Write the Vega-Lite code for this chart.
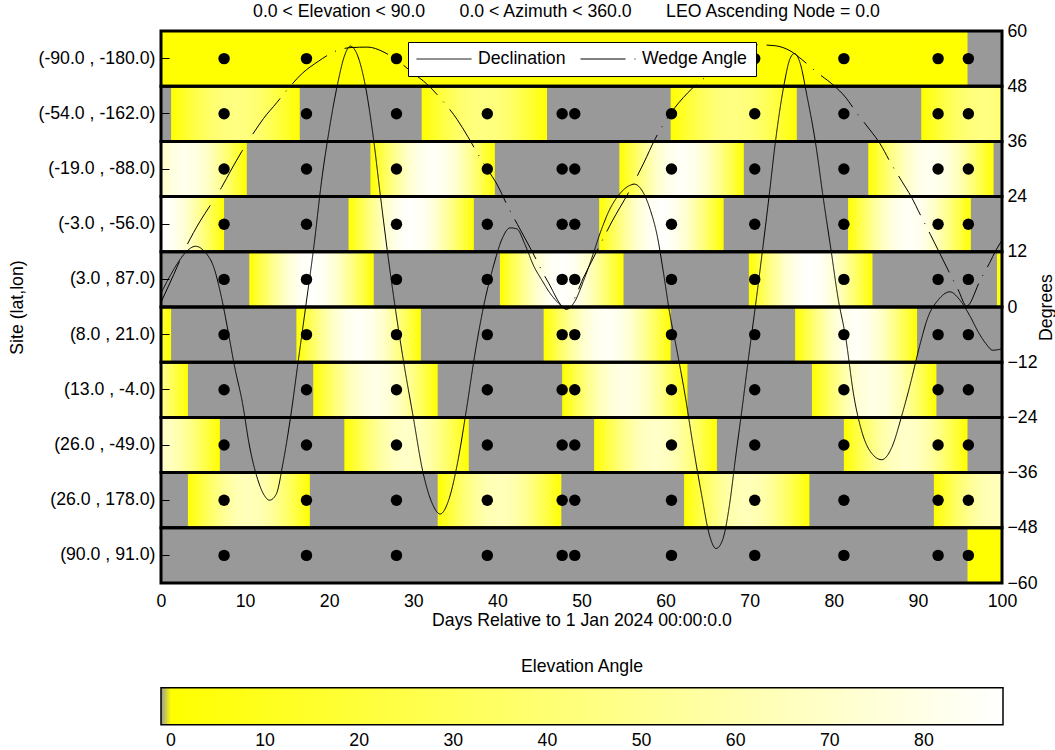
{
"$schema": "https://vega.github.io/schema/vega-lite/v6.json",
"background": "white",
"padding": {"top": 3, "left": 8, "right": 0, "bottom": 0},
"config": {
  "font": "Liberation Sans",
  "view": {"stroke": "black", "strokeWidth": 2},
  "axis": {"labelFont": "Liberation Sans", "titleFont": "Liberation Sans", "labelFontSize": 17.7, "titleFontSize": 17.7, "titleFontWeight": "normal", "labelColor": "black", "titleColor": "black", "tickColor": "black", "tickWidth": 1, "domain": false, "grid": false, "labelOverlap": false},
  "title": {"font": "Liberation Sans", "fontSize": 17.7, "fontWeight": "normal", "color": "black"}
},
"datasets": {
  "sites": [
    {"site": "(-90.0 , -180.0)"}, {"site": "(-54.0 , -162.0)"}, {"site": "(-19.0 , -88.0)"}, {"site": "(-3.0 , -56.0)"}, {"site": "(3.0 , 87.0)"},
    {"site": "(8.0 , 21.0)"}, {"site": "(13.0 , -4.0)"}, {"site": "(26.0 , -49.0)"}, {"site": "(26.0 , 178.0)"}, {"site": "(90.0 , 91.0)"}
  ],
  "passes": [
    {"site": "(-90.0 , -180.0)", "start": -5, "end": 95.9, "peak": 1},
    {"site": "(-54.0 , -162.0)", "start": 1.2, "end": 16.5, "peak": 45},
    {"site": "(-54.0 , -162.0)", "start": 31.0, "end": 45.9, "peak": 45},
    {"site": "(-54.0 , -162.0)", "start": 60.6, "end": 75.6, "peak": 45},
    {"site": "(-54.0 , -162.0)", "start": 90.4, "end": 105.3, "peak": 45},
    {"site": "(-19.0 , -88.0)", "start": -4.6, "end": 10.2, "peak": 82},
    {"site": "(-19.0 , -88.0)", "start": 24.9, "end": 39.7, "peak": 86},
    {"site": "(-19.0 , -88.0)", "start": 54.5, "end": 69.3, "peak": 86},
    {"site": "(-19.0 , -88.0)", "start": 84.1, "end": 99.0, "peak": 84},
    {"site": "(-3.0 , -56.0)", "start": -7.3, "end": 7.5, "peak": 88},
    {"site": "(-3.0 , -56.0)", "start": 22.3, "end": 37.2, "peak": 88},
    {"site": "(-3.0 , -56.0)", "start": 52.1, "end": 66.9, "peak": 88},
    {"site": "(-3.0 , -56.0)", "start": 81.7, "end": 96.3, "peak": 86},
    {"site": "(3.0 , 87.0)", "start": 10.5, "end": 25.3, "peak": 88},
    {"site": "(3.0 , 87.0)", "start": 40.3, "end": 55.0, "peak": 88},
    {"site": "(3.0 , 87.0)", "start": 69.9, "end": 84.6, "peak": 88},
    {"site": "(3.0 , 87.0)", "start": 99.4, "end": 114.2, "peak": 88},
    {"site": "(8.0 , 21.0)", "start": -13.6, "end": 1.2, "peak": 85},
    {"site": "(8.0 , 21.0)", "start": 16.1, "end": 30.9, "peak": 86},
    {"site": "(8.0 , 21.0)", "start": 45.5, "end": 60.6, "peak": 86},
    {"site": "(8.0 , 21.0)", "start": 75.4, "end": 89.9, "peak": 86},
    {"site": "(13.0 , -4.0)", "start": -11.6, "end": 3.2, "peak": 80},
    {"site": "(13.0 , -4.0)", "start": 18.1, "end": 32.9, "peak": 80},
    {"site": "(13.0 , -4.0)", "start": 47.7, "end": 62.6, "peak": 80},
    {"site": "(13.0 , -4.0)", "start": 77.4, "end": 92.2, "peak": 80},
    {"site": "(26.0 , -49.0)", "start": -7.8, "end": 7.0, "peak": 70},
    {"site": "(26.0 , -49.0)", "start": 21.8, "end": 36.6, "peak": 70},
    {"site": "(26.0 , -49.0)", "start": 51.5, "end": 66.1, "peak": 70},
    {"site": "(26.0 , -49.0)", "start": 81.2, "end": 95.9, "peak": 70},
    {"site": "(26.0 , 178.0)", "start": 3.2, "end": 17.7, "peak": 65},
    {"site": "(26.0 , 178.0)", "start": 32.9, "end": 47.6, "peak": 65},
    {"site": "(26.0 , 178.0)", "start": 62.2, "end": 77.1, "peak": 65},
    {"site": "(26.0 , 178.0)", "start": 91.9, "end": 106.7, "peak": 65},
    {"site": "(90.0 , 91.0)", "start": 95.9, "end": 105, "peak": 1}
  ],
  "dots": [
    {"site": "(-90.0 , -180.0)", "day": 7.5}, {"site": "(-90.0 , -180.0)", "day": 17.3}, {"site": "(-90.0 , -180.0)", "day": 28.0}, {"site": "(-90.0 , -180.0)", "day": 38.8}, {"site": "(-90.0 , -180.0)", "day": 47.7}, {"site": "(-90.0 , -180.0)", "day": 49.2}, {"site": "(-90.0 , -180.0)", "day": 60.7}, {"site": "(-90.0 , -180.0)", "day": 70.6}, {"site": "(-90.0 , -180.0)", "day": 81.2}, {"site": "(-90.0 , -180.0)", "day": 92.4}, {"site": "(-90.0 , -180.0)", "day": 96.0},
    {"site": "(-54.0 , -162.0)", "day": 7.5}, {"site": "(-54.0 , -162.0)", "day": 17.3}, {"site": "(-54.0 , -162.0)", "day": 28.0}, {"site": "(-54.0 , -162.0)", "day": 38.8}, {"site": "(-54.0 , -162.0)", "day": 47.7}, {"site": "(-54.0 , -162.0)", "day": 49.2}, {"site": "(-54.0 , -162.0)", "day": 60.7}, {"site": "(-54.0 , -162.0)", "day": 70.6}, {"site": "(-54.0 , -162.0)", "day": 81.2}, {"site": "(-54.0 , -162.0)", "day": 92.4}, {"site": "(-54.0 , -162.0)", "day": 96.0},
    {"site": "(-19.0 , -88.0)", "day": 7.5}, {"site": "(-19.0 , -88.0)", "day": 17.3}, {"site": "(-19.0 , -88.0)", "day": 28.0}, {"site": "(-19.0 , -88.0)", "day": 38.8}, {"site": "(-19.0 , -88.0)", "day": 47.7}, {"site": "(-19.0 , -88.0)", "day": 49.2}, {"site": "(-19.0 , -88.0)", "day": 60.7}, {"site": "(-19.0 , -88.0)", "day": 70.6}, {"site": "(-19.0 , -88.0)", "day": 81.2}, {"site": "(-19.0 , -88.0)", "day": 92.4}, {"site": "(-19.0 , -88.0)", "day": 96.0},
    {"site": "(-3.0 , -56.0)", "day": 7.5}, {"site": "(-3.0 , -56.0)", "day": 17.3}, {"site": "(-3.0 , -56.0)", "day": 28.0}, {"site": "(-3.0 , -56.0)", "day": 38.8}, {"site": "(-3.0 , -56.0)", "day": 47.7}, {"site": "(-3.0 , -56.0)", "day": 49.2}, {"site": "(-3.0 , -56.0)", "day": 60.7}, {"site": "(-3.0 , -56.0)", "day": 70.6}, {"site": "(-3.0 , -56.0)", "day": 81.2}, {"site": "(-3.0 , -56.0)", "day": 92.4}, {"site": "(-3.0 , -56.0)", "day": 96.0},
    {"site": "(3.0 , 87.0)", "day": 7.5}, {"site": "(3.0 , 87.0)", "day": 17.3}, {"site": "(3.0 , 87.0)", "day": 28.0}, {"site": "(3.0 , 87.0)", "day": 38.8}, {"site": "(3.0 , 87.0)", "day": 47.7}, {"site": "(3.0 , 87.0)", "day": 49.2}, {"site": "(3.0 , 87.0)", "day": 60.7}, {"site": "(3.0 , 87.0)", "day": 70.6}, {"site": "(3.0 , 87.0)", "day": 81.2}, {"site": "(3.0 , 87.0)", "day": 92.4}, {"site": "(3.0 , 87.0)", "day": 96.0},
    {"site": "(8.0 , 21.0)", "day": 7.5}, {"site": "(8.0 , 21.0)", "day": 17.3}, {"site": "(8.0 , 21.0)", "day": 28.0}, {"site": "(8.0 , 21.0)", "day": 38.8}, {"site": "(8.0 , 21.0)", "day": 47.7}, {"site": "(8.0 , 21.0)", "day": 49.2}, {"site": "(8.0 , 21.0)", "day": 60.7}, {"site": "(8.0 , 21.0)", "day": 70.6}, {"site": "(8.0 , 21.0)", "day": 81.2}, {"site": "(8.0 , 21.0)", "day": 92.4}, {"site": "(8.0 , 21.0)", "day": 96.0},
    {"site": "(13.0 , -4.0)", "day": 7.5}, {"site": "(13.0 , -4.0)", "day": 17.3}, {"site": "(13.0 , -4.0)", "day": 28.0}, {"site": "(13.0 , -4.0)", "day": 38.8}, {"site": "(13.0 , -4.0)", "day": 47.7}, {"site": "(13.0 , -4.0)", "day": 49.2}, {"site": "(13.0 , -4.0)", "day": 60.7}, {"site": "(13.0 , -4.0)", "day": 70.6}, {"site": "(13.0 , -4.0)", "day": 81.2}, {"site": "(13.0 , -4.0)", "day": 92.4}, {"site": "(13.0 , -4.0)", "day": 96.0},
    {"site": "(26.0 , -49.0)", "day": 7.5}, {"site": "(26.0 , -49.0)", "day": 17.3}, {"site": "(26.0 , -49.0)", "day": 28.0}, {"site": "(26.0 , -49.0)", "day": 38.8}, {"site": "(26.0 , -49.0)", "day": 47.7}, {"site": "(26.0 , -49.0)", "day": 49.2}, {"site": "(26.0 , -49.0)", "day": 60.7}, {"site": "(26.0 , -49.0)", "day": 70.6}, {"site": "(26.0 , -49.0)", "day": 81.2}, {"site": "(26.0 , -49.0)", "day": 92.4}, {"site": "(26.0 , -49.0)", "day": 96.0},
    {"site": "(26.0 , 178.0)", "day": 7.5}, {"site": "(26.0 , 178.0)", "day": 17.3}, {"site": "(26.0 , 178.0)", "day": 28.0}, {"site": "(26.0 , 178.0)", "day": 38.8}, {"site": "(26.0 , 178.0)", "day": 47.7}, {"site": "(26.0 , 178.0)", "day": 49.2}, {"site": "(26.0 , 178.0)", "day": 60.7}, {"site": "(26.0 , 178.0)", "day": 70.6}, {"site": "(26.0 , 178.0)", "day": 81.2}, {"site": "(26.0 , 178.0)", "day": 92.4}, {"site": "(26.0 , 178.0)", "day": 96.0},
    {"site": "(90.0 , 91.0)", "day": 7.5}, {"site": "(90.0 , 91.0)", "day": 17.3}, {"site": "(90.0 , 91.0)", "day": 28.0}, {"site": "(90.0 , 91.0)", "day": 38.8}, {"site": "(90.0 , 91.0)", "day": 47.7}, {"site": "(90.0 , 91.0)", "day": 49.2}, {"site": "(90.0 , 91.0)", "day": 60.7}, {"site": "(90.0 , 91.0)", "day": 70.6}, {"site": "(90.0 , 91.0)", "day": 81.2}, {"site": "(90.0 , 91.0)", "day": 92.4}, {"site": "(90.0 , 91.0)", "day": 96.0}
  ],
  "lines": [
    {"series": "Declination", "day": 0, "deg": 3.0}, {"series": "Declination", "day": 1.0, "deg": 6.5}, {"series": "Declination", "day": 2.0, "deg": 9.6}, {"series": "Declination", "day": 3.0, "deg": 12.0}, {"series": "Declination", "day": 4.1, "deg": 13.2}, {"series": "Declination", "day": 5.2, "deg": 12.0}, {"series": "Declination", "day": 6.3, "deg": 8.5}, {"series": "Declination", "day": 7.2, "deg": 2.0}, {"series": "Declination", "day": 8.0, "deg": -5.5}, {"series": "Declination", "day": 8.7, "deg": -12.5},
    {"series": "Declination", "day": 9.7, "deg": -21.0}, {"series": "Declination", "day": 10.5, "deg": -30.0}, {"series": "Declination", "day": 11.5, "deg": -37.5}, {"series": "Declination", "day": 12.3, "deg": -41.0}, {"series": "Declination", "day": 12.9, "deg": -42.0}, {"series": "Declination", "day": 13.7, "deg": -40.7}, {"series": "Declination", "day": 14.5, "deg": -34.0}, {"series": "Declination", "day": 15.4, "deg": -24.0}, {"series": "Declination", "day": 16.3, "deg": -12.0}, {"series": "Declination", "day": 17.2, "deg": 0.0},
    {"series": "Declination", "day": 18.2, "deg": 13.5}, {"series": "Declination", "day": 19.1, "deg": 27.5}, {"series": "Declination", "day": 20.0, "deg": 38.5}, {"series": "Declination", "day": 21.0, "deg": 48.5}, {"series": "Declination", "day": 21.8, "deg": 54.5}, {"series": "Declination", "day": 22.5, "deg": 56.7}, {"series": "Declination", "day": 23.3, "deg": 55.0}, {"series": "Declination", "day": 24.2, "deg": 49.0}, {"series": "Declination", "day": 25.2, "deg": 37.5}, {"series": "Declination", "day": 26.1, "deg": 24.0},
    {"series": "Declination", "day": 27.0, "deg": 11.0}, {"series": "Declination", "day": 28.0, "deg": -2.0}, {"series": "Declination", "day": 28.9, "deg": -12.5}, {"series": "Declination", "day": 30.0, "deg": -24.0}, {"series": "Declination", "day": 31.1, "deg": -35.5}, {"series": "Declination", "day": 32.2, "deg": -42.5}, {"series": "Declination", "day": 33.2, "deg": -45.0}, {"series": "Declination", "day": 34.2, "deg": -42.0}, {"series": "Declination", "day": 35.3, "deg": -33.5}, {"series": "Declination", "day": 36.3, "deg": -22.5},
    {"series": "Declination", "day": 37.3, "deg": -10.5}, {"series": "Declination", "day": 38.4, "deg": 0.5}, {"series": "Declination", "day": 39.5, "deg": 8.7}, {"series": "Declination", "day": 40.6, "deg": 15.0}, {"series": "Declination", "day": 41.5, "deg": 17.2}, {"series": "Declination", "day": 42.3, "deg": 17.0}, {"series": "Declination", "day": 43.3, "deg": 13.5}, {"series": "Declination", "day": 44.3, "deg": 9.0}, {"series": "Declination", "day": 45.3, "deg": 5.8}, {"series": "Declination", "day": 46.3, "deg": 2.9},
    {"series": "Declination", "day": 47.4, "deg": 0.6}, {"series": "Declination", "day": 48.2, "deg": -0.5}, {"series": "Declination", "day": 49.2, "deg": 1.2}, {"series": "Declination", "day": 50.2, "deg": 5.5}, {"series": "Declination", "day": 51.2, "deg": 10.5}, {"series": "Declination", "day": 52.3, "deg": 16.5}, {"series": "Declination", "day": 53.3, "deg": 21.0}, {"series": "Declination", "day": 54.5, "deg": 24.5}, {"series": "Declination", "day": 55.6, "deg": 26.3}, {"series": "Declination", "day": 56.3, "deg": 26.7},
    {"series": "Declination", "day": 57.3, "deg": 25.0}, {"series": "Declination", "day": 58.2, "deg": 21.0}, {"series": "Declination", "day": 59.0, "deg": 15.5}, {"series": "Declination", "day": 59.7, "deg": 8.0}, {"series": "Declination", "day": 60.5, "deg": -1.5}, {"series": "Declination", "day": 61.3, "deg": -9.0}, {"series": "Declination", "day": 62.3, "deg": -19.0}, {"series": "Declination", "day": 63.3, "deg": -30.5}, {"series": "Declination", "day": 64.3, "deg": -41.0}, {"series": "Declination", "day": 65.2, "deg": -49.5},
    {"series": "Declination", "day": 66.0, "deg": -52.5}, {"series": "Declination", "day": 66.8, "deg": -50.5}, {"series": "Declination", "day": 67.6, "deg": -43.0}, {"series": "Declination", "day": 68.3, "deg": -33.0}, {"series": "Declination", "day": 69.1, "deg": -22.0}, {"series": "Declination", "day": 69.9, "deg": -10.5}, {"series": "Declination", "day": 70.7, "deg": 0.5}, {"series": "Declination", "day": 71.5, "deg": 12.0}, {"series": "Declination", "day": 72.3, "deg": 24.0}, {"series": "Declination", "day": 73.1, "deg": 36.5},
    {"series": "Declination", "day": 74.1, "deg": 48.5}, {"series": "Declination", "day": 74.7, "deg": 53.5}, {"series": "Declination", "day": 75.3, "deg": 55.1}, {"series": "Declination", "day": 76.0, "deg": 53.0}, {"series": "Declination", "day": 76.8, "deg": 46.0}, {"series": "Declination", "day": 77.8, "deg": 36.0}, {"series": "Declination", "day": 78.8, "deg": 23.0}, {"series": "Declination", "day": 79.7, "deg": 12.0}, {"series": "Declination", "day": 80.5, "deg": 2.0}, {"series": "Declination", "day": 81.4, "deg": -6.5},
    {"series": "Declination", "day": 82.4, "deg": -19.5}, {"series": "Declination", "day": 83.4, "deg": -27.5}, {"series": "Declination", "day": 84.5, "deg": -31.8}, {"series": "Declination", "day": 85.7, "deg": -33.2}, {"series": "Declination", "day": 86.9, "deg": -30.5}, {"series": "Declination", "day": 88.1, "deg": -23.5}, {"series": "Declination", "day": 89.2, "deg": -16.0}, {"series": "Declination", "day": 90.2, "deg": -8.5}, {"series": "Declination", "day": 91.2, "deg": -2.2}, {"series": "Declination", "day": 92.4, "deg": 1.5},
    {"series": "Declination", "day": 93.8, "deg": 3.3}, {"series": "Declination", "day": 95.0, "deg": 1.5}, {"series": "Declination", "day": 96.2, "deg": -2.0}, {"series": "Declination", "day": 97.2, "deg": -5.5}, {"series": "Declination", "day": 98.1, "deg": -8.0}, {"series": "Declination", "day": 98.9, "deg": -9.4}, {"series": "Declination", "day": 100, "deg": -9.1},
    {"series": "Wedge Angle", "day": 0, "deg": 1.0}, {"series": "Wedge Angle", "day": 1.5, "deg": 7.0}, {"series": "Wedge Angle", "day": 3.1, "deg": 13.5}, {"series": "Wedge Angle", "day": 4.6, "deg": 18.5}, {"series": "Wedge Angle", "day": 6.0, "deg": 22.5}, {"series": "Wedge Angle", "day": 7.2, "deg": 26.0}, {"series": "Wedge Angle", "day": 8.4, "deg": 30.0}, {"series": "Wedge Angle", "day": 9.6, "deg": 33.8}, {"series": "Wedge Angle", "day": 10.6, "deg": 36.7}, {"series": "Wedge Angle", "day": 12.2, "deg": 41.0},
    {"series": "Wedge Angle", "day": 13.8, "deg": 44.5}, {"series": "Wedge Angle", "day": 15.0, "deg": 47.2}, {"series": "Wedge Angle", "day": 16.8, "deg": 50.8}, {"series": "Wedge Angle", "day": 18.7, "deg": 53.4}, {"series": "Wedge Angle", "day": 20.6, "deg": 55.5}, {"series": "Wedge Angle", "day": 22.6, "deg": 56.4}, {"series": "Wedge Angle", "day": 24.6, "deg": 56.5}, {"series": "Wedge Angle", "day": 26.4, "deg": 55.5}, {"series": "Wedge Angle", "day": 28.3, "deg": 53.3}, {"series": "Wedge Angle", "day": 30.0, "deg": 50.8},
    {"series": "Wedge Angle", "day": 31.6, "deg": 48.5}, {"series": "Wedge Angle", "day": 33.4, "deg": 45.0}, {"series": "Wedge Angle", "day": 35.2, "deg": 40.8}, {"series": "Wedge Angle", "day": 36.5, "deg": 37.0}, {"series": "Wedge Angle", "day": 37.6, "deg": 33.5}, {"series": "Wedge Angle", "day": 38.8, "deg": 30.0}, {"series": "Wedge Angle", "day": 40.0, "deg": 26.5}, {"series": "Wedge Angle", "day": 41.2, "deg": 22.0}, {"series": "Wedge Angle", "day": 42.4, "deg": 17.9}, {"series": "Wedge Angle", "day": 44.0, "deg": 12.5},
    {"series": "Wedge Angle", "day": 46.0, "deg": 5.5}, {"series": "Wedge Angle", "day": 48.2, "deg": -0.4}, {"series": "Wedge Angle", "day": 50.4, "deg": 7.0}, {"series": "Wedge Angle", "day": 52.0, "deg": 12.8}, {"series": "Wedge Angle", "day": 53.6, "deg": 18.5}, {"series": "Wedge Angle", "day": 55.9, "deg": 25.9}, {"series": "Wedge Angle", "day": 57.4, "deg": 31.3}, {"series": "Wedge Angle", "day": 58.8, "deg": 36.7}, {"series": "Wedge Angle", "day": 60.6, "deg": 42.1}, {"series": "Wedge Angle", "day": 62.6, "deg": 46.5},
    {"series": "Wedge Angle", "day": 64.8, "deg": 50.1}, {"series": "Wedge Angle", "day": 67.0, "deg": 53.5}, {"series": "Wedge Angle", "day": 69.0, "deg": 55.5}, {"series": "Wedge Angle", "day": 71.0, "deg": 57.0}, {"series": "Wedge Angle", "day": 73.0, "deg": 56.8}, {"series": "Wedge Angle", "day": 74.9, "deg": 55.6}, {"series": "Wedge Angle", "day": 76.2, "deg": 53.8}, {"series": "Wedge Angle", "day": 78.0, "deg": 51.0}, {"series": "Wedge Angle", "day": 80.1, "deg": 48.0}, {"series": "Wedge Angle", "day": 81.3, "deg": 45.8},
    {"series": "Wedge Angle", "day": 82.8, "deg": 42.0}, {"series": "Wedge Angle", "day": 84.3, "deg": 38.5}, {"series": "Wedge Angle", "day": 85.5, "deg": 35.5}, {"series": "Wedge Angle", "day": 86.8, "deg": 31.2}, {"series": "Wedge Angle", "day": 88.1, "deg": 27.3}, {"series": "Wedge Angle", "day": 89.2, "deg": 24.0}, {"series": "Wedge Angle", "day": 90.3, "deg": 20.0}, {"series": "Wedge Angle", "day": 91.5, "deg": 15.7}, {"series": "Wedge Angle", "day": 92.4, "deg": 12.4}, {"series": "Wedge Angle", "day": 93.6, "deg": 8.0},
    {"series": "Wedge Angle", "day": 94.8, "deg": 3.7}, {"series": "Wedge Angle", "day": 95.8, "deg": 0.2}, {"series": "Wedge Angle", "day": 97.4, "deg": 5.8}, {"series": "Wedge Angle", "day": 98.5, "deg": 9.5}, {"series": "Wedge Angle", "day": 99.3, "deg": 12.4}, {"series": "Wedge Angle", "day": 100, "deg": 14.5}
  ]
},
"width": 841,
"height": 552,
"title": {"text": "0.0 < Elevation < 90.0\u00a0\u00a0\u00a0\u00a0\u00a0\u00a0\u00a00.0 < Azimuth < 360.0\u00a0\u00a0\u00a0\u00a0\u00a0\u00a0\u00a0LEO Ascending Node = 0.0", "dx": -15, "offset": 1},
"layer": [
  {
    "data": {"name": "sites"},
    "mark": {"type": "rect", "fill": "#999999"},
    "encoding": {
      "x": {"datum": 0, "type": "quantitative", "scale": {"domain": [0, 100], "nice": false, "zero": false},
            "axis": {"orient": "bottom", "values": [0, 10, 20, 30, 40, 50, 60, 70, 80, 90, 100], "tickSize": -9, "labelPadding": 18, "labelFlush": false, "title": "Days Relative to 1 Jan 2024 00:00:0.0", "titlePadding": 2}},
      "x2": {"datum": 100},
      "y": {"field": "site", "type": "nominal", "sort": null,
            "scale": {"domain": ["(-90.0 , -180.0)", "(-54.0 , -162.0)", "(-19.0 , -88.0)", "(-3.0 , -56.0)", "(3.0 , 87.0)", "(8.0 , 21.0)", "(13.0 , -4.0)", "(26.0 , -49.0)", "(26.0 , 178.0)", "(90.0 , 91.0)"], "paddingInner": 0, "paddingOuter": 0},
            "axis": {"orient": "left", "tickSize": -8, "labelPadding": 14, "title": "Site (lat,lon)", "titlePadding": 12}}
    }
  },
  {
    "data": {"name": "passes"},
    "mark": {"type": "rect", "fill": "#ffff00", "clip": true, "strokeWidth": 0, "strokeOpacity": 0},
    "encoding": {
      "x": {"field": "start", "type": "quantitative", "axis": null},
      "x2": {"field": "end"},
      "y": {"field": "site", "type": "nominal", "sort": null, "axis": null,
            "scale": {"domain": ["(-90.0 , -180.0)", "(-54.0 , -162.0)", "(-19.0 , -88.0)", "(-3.0 , -56.0)", "(3.0 , 87.0)", "(8.0 , 21.0)", "(13.0 , -4.0)", "(26.0 , -49.0)", "(26.0 , 178.0)", "(90.0 , 91.0)"], "paddingInner": 0, "paddingOuter": 0}},
      "stroke": {"field": "peak", "type": "quantitative",
            "scale": {"type": "linear", "domain": [-1.06, 0, 88.4], "range": ["#999999", "#ffff00", "#ffffff"], "interpolate": "rgb", "nice": false, "zero": false},
            "legend": {"title": "Elevation Angle", "orient": "none", "legendX": 0, "legendY": 626.5, "direction": "horizontal", "type": "gradient",
                       "gradientLength": 842, "gradientThickness": 37, "gradientStrokeColor": "black", "gradientStrokeWidth": 1.5, "gradientOpacity": 1,
                       "values": [0, 10, 20, 30, 40, 50, 60, 70, 80], "labelFontSize": 17.7, "labelFont": "Liberation Sans", "labelColor": "black", "labelOffset": 7, "labelOverlap": false,
                       "titleFontSize": 17.7, "titleFont": "Liberation Sans", "titleFontWeight": "normal", "titleColor": "black", "titleAnchor": "middle", "titlePadding": 12.5, "padding": 0}}
    }
  },
  {
    "data": {"name": "passes"},
    "mark": {"type": "rect", "clip": true,
             "fill": {"gradient": "linear", "x1": 0, "y1": 0, "x2": 1, "y2": 0, "stops": [
               {"offset": 0, "color": "rgba(255,255,255,0)"},
               {"offset": 0.1, "color": "rgba(255,255,255,0.31)"},
               {"offset": 0.2, "color": "rgba(255,255,255,0.59)"},
               {"offset": 0.3, "color": "rgba(255,255,255,0.81)"},
               {"offset": 0.4, "color": "rgba(255,255,255,0.95)"},
               {"offset": 0.5, "color": "rgba(255,255,255,1)"},
               {"offset": 0.6, "color": "rgba(255,255,255,0.95)"},
               {"offset": 0.7, "color": "rgba(255,255,255,0.81)"},
               {"offset": 0.8, "color": "rgba(255,255,255,0.59)"},
               {"offset": 0.9, "color": "rgba(255,255,255,0.31)"},
               {"offset": 1, "color": "rgba(255,255,255,0)"}]}},
    "encoding": {
      "x": {"field": "start", "type": "quantitative", "axis": null},
      "x2": {"field": "end"},
      "y": {"field": "site", "type": "nominal", "sort": null, "axis": null,
            "scale": {"domain": ["(-90.0 , -180.0)", "(-54.0 , -162.0)", "(-19.0 , -88.0)", "(-3.0 , -56.0)", "(3.0 , 87.0)", "(8.0 , 21.0)", "(13.0 , -4.0)", "(26.0 , -49.0)", "(26.0 , 178.0)", "(90.0 , 91.0)"], "paddingInner": 0, "paddingOuter": 0}},
      "opacity": {"field": "peak", "type": "quantitative", "scale": {"domain": [0, 88.4], "range": [0, 1]}, "legend": null}
    }
  },
  {
    "data": {"name": "sites"},
    "mark": {"type": "rect", "filled": false, "stroke": "black", "strokeWidth": 3},
    "encoding": {
      "x": {"datum": 0, "type": "quantitative", "axis": null},
      "x2": {"datum": 100},
      "y": {"field": "site", "type": "nominal", "sort": null, "axis": null,
            "scale": {"domain": ["(-90.0 , -180.0)", "(-54.0 , -162.0)", "(-19.0 , -88.0)", "(-3.0 , -56.0)", "(3.0 , 87.0)", "(8.0 , 21.0)", "(13.0 , -4.0)", "(26.0 , -49.0)", "(26.0 , 178.0)", "(90.0 , 91.0)"], "paddingInner": 0, "paddingOuter": 0}}
    }
  },
  {
    "data": {"name": "dots"},
    "mark": {"type": "circle", "size": 130, "color": "black", "opacity": 1},
    "encoding": {
      "x": {"field": "day", "type": "quantitative", "axis": null},
      "y": {"field": "site", "type": "nominal", "sort": null, "axis": null,
            "scale": {"domain": ["(-90.0 , -180.0)", "(-54.0 , -162.0)", "(-19.0 , -88.0)", "(-3.0 , -56.0)", "(3.0 , 87.0)", "(8.0 , 21.0)", "(13.0 , -4.0)", "(26.0 , -49.0)", "(26.0 , 178.0)", "(90.0 , 91.0)"], "paddingInner": 0, "paddingOuter": 0}}
    }
  },
  {
    "data": {"name": "lines"},
    "mark": {"type": "line", "color": "black", "strokeWidth": 1, "interpolate": "monotone"},
    "encoding": {
      "x": {"field": "day", "type": "quantitative",
            "axis": {"orient": "top", "values": [10, 20, 30, 40, 50, 60, 70, 80, 90], "tickSize": -10, "labels": false, "title": null}},
      "y": {"field": "deg", "type": "quantitative", "scale": {"domain": [-60, 60], "nice": false, "zero": false},
            "axis": {"orient": "right", "values": [-60, -54, -48, -42, -36, -30, -24, -18, -12, -6, 0, 6, 12, 18, 24, 30, 36, 42, 48, 54, 60], "labelExpr": "datum.value % 12 === 0 ? datum.label : ''", "tickSize": -9, "labelPadding": 14, "title": "Degrees", "titleAngle": 270, "titlePadding": 18}},
      "strokeDash": {"field": "series", "type": "nominal",
            "scale": {"domain": ["Declination", "Wedge Angle"], "range": [[1, 0], [45, 9, 1, 9]]},
            "legend": {"title": null, "orient": "none", "legendX": 247, "legendY": 11, "direction": "horizontal", "fillColor": "white", "strokeColor": "black", "padding": 8, "symbolType": "stroke", "symbolSize": 3025, "symbolStrokeWidth": 1, "symbolStrokeColor": "black", "clipHeight": 18, "labelFontSize": 17.7, "labelFont": "Liberation Sans", "labelColor": "black", "labelOffset": 6, "columnPadding": 14}}
    }
  }
],
"resolve": {"scale": {"y": "independent"}, "axis": {"x": "independent", "y": "independent"}}
}
